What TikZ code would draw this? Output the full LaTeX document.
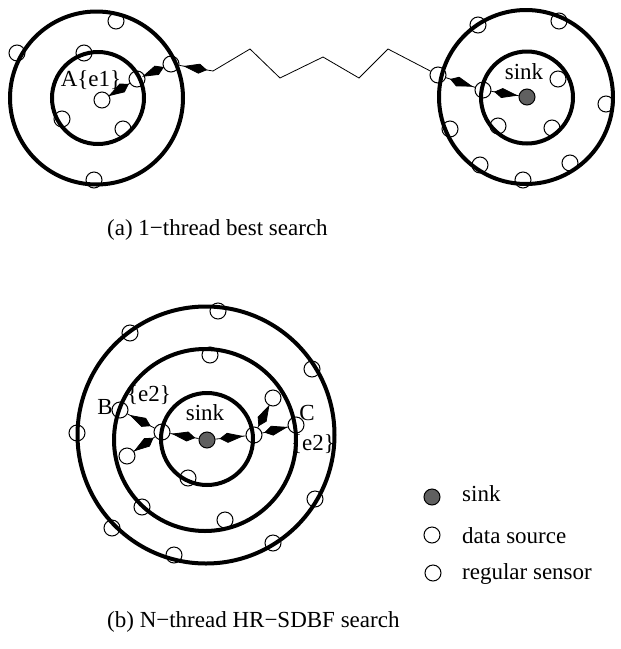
\documentclass[tikz,border=0pt]{standalone}
\usepackage{fontspec}
\setmainfont{Liberation Serif}
\usetikzlibrary{arrows.meta,decorations.markings}
\definecolor{sinkgray}{RGB}{96,96,96}
\tikzset{
  sensor/.style={circle,draw,line width=1pt,minimum size=16pt,inner sep=0pt},
  sinknode/.style={sensor,fill=sinkgray},
  ring/.style={line width=4pt},
  lbl/.style={font=\fontsize{23}{27}\selectfont,inner sep=0pt},
  hop/.style={line width=0.8pt,
    decoration={markings,mark=at position 0.5 with {\arrow[xshift=11pt]{Kite[length=24pt,width=10pt,inset=16pt]}}},
    postaction={decorate}}
}

\begin{document}
\begin{tikzpicture}[x=1pt,y=-1pt]
  \useasboundingbox (0,0) rectangle (621,649);
  % (a) 1-thread best search
  \draw[ring] (96.5,98) circle[radius=86.5];
  \draw[ring] (98,98) circle[radius=46];
  \draw[ring] (526,97) circle[radius=87];
  \draw[ring] (527,97.5) circle[radius=46];
  \node[sensor] (A) at (102,100) {};
  \node[sensor] (a1) at (137,79) {};
  \node[sensor] (a2) at (171,64) {};
  \node[sensor] (as1) at (116,21) {};
  \node[sensor] (as2) at (17,53) {};
  \node[sensor] (as3) at (84,53) {};
  \node[sensor] (as4) at (62,119) {};
  \node[sensor] (as5) at (123,129) {};
  \node[sensor] (as6) at (94,180) {};
  \node[sinknode] (sinka) at (527,97) {};
  \node[sensor] (r1) at (438,75) {};
  \node[sensor] (r2) at (483,90) {};
  \node[sensor] (rs1) at (478,25) {};
  \node[sensor] (rs2) at (559,21) {};
  \node[sensor] (rs3) at (558,79) {};
  \node[sensor] (rs4) at (606,104) {};
  \node[sensor] (rs5) at (450,129) {};
  \node[sensor] (rs6) at (498,126) {};
  \node[sensor] (rs7) at (552,128) {};
  \node[sensor] (rs8) at (480,165) {};
  \node[sensor] (rs9) at (570,163) {};
  \node[sensor] (rs10) at (523,180) {};
  \coordinate (z1) at (213,71);
  \coordinate (z2) at (250,49);
  \coordinate (z3) at (280,78);
  \coordinate (z4) at (323,57);
  \coordinate (z5) at (359,78);
  \coordinate (z6) at (388,49);
  \draw[hop] (A) -- (a1);
  \draw[hop] (a1) -- (a2);
  \draw[hop] (a2) -- (z1);
  \draw[line width=0.8pt] (z1) -- (z2) -- (z3) -- (z4) -- (z5) -- (z6) -- (r1);
  \draw[hop] (r2) -- (r1);
  \draw[hop] (sinka) -- (r2);
  \node[lbl] (Alab) at (91,80) {A\{e1\}};
  \node[lbl] (sinkalab) at (524,72) {sink};
  \node[lbl,anchor=base west] (capa) at (107,235) {(a) 1−thread best search};
  % (b) N-thread HR-SDBF search
  \draw[ring] (206,435) circle[radius=128.5];
  \draw[ring] (205,440) circle[radius=91];
  \draw[ring] (207,439) circle[radius=46];
  \node[sinknode] (sinkb) at (207,440) {};
  \node[sensor] (B) at (120,410) {};
  \node[sensor] (C) at (296,425) {};
  \node[sensor] (cl) at (162,432) {};
  \node[sensor] (cr) at (254,435) {};
  \node[sensor] (ll) at (127,456) {};
  \node[sensor] (ur) at (273,398) {};
  \node[sensor] (bs1) at (218,311) {};
  \node[sensor] (bs2) at (130,333) {};
  \node[sensor] (bs3) at (210,355) {};
  \node[sensor] (bs4) at (312,369) {};
  \node[sensor] (bs5) at (77,433) {};
  \node[sensor] (bs6) at (188,478) {};
  \node[sensor] (bs7) at (315,499) {};
  \node[sensor] (bs8) at (142,507) {};
  \node[sensor] (bs9) at (225,520) {};
  \node[sensor] (bs10) at (112,528) {};
  \node[sensor] (bs11) at (273,543) {};
  \node[sensor] (bs12) at (174,555) {};
  \draw[hop] (B) -- (cl);
  \draw[hop] (ll) -- (cl);
  \draw[hop] (cl) -- (sinkb);
  \draw[hop] (C) -- (cr);
  \draw[hop] (ur) -- (cr);
  \draw[hop] (cr) -- (sinkb);
  \node[lbl] (Blab) at (105,407) {B};
  \node[lbl] (Bev) at (149,395) {\{e2\}};
  \node[lbl] (sinkblab) at (205,413) {sink};
  \node[lbl] (Clab) at (307,413) {C};
  \node[lbl] (Cev) at (313,444) {\{e2\}};
  % legend
  \node[sinknode] (legsink) at (432,497) {};
  \node[sensor] (legsrc) at (432,535) {};
  \node[sensor] (legreg) at (433,573) {};
  \node[lbl,anchor=base west] (legsinkt) at (462,501) {sink};
  \node[lbl,anchor=base west] (legsrct) at (462,543) {data source};
  \node[lbl,anchor=base west] (legregt) at (462,579) {regular sensor};
  \node[lbl,anchor=base west] (capb) at (107,627) {(b) N−thread HR−SDBF search};
\end{tikzpicture}
\end{document}
